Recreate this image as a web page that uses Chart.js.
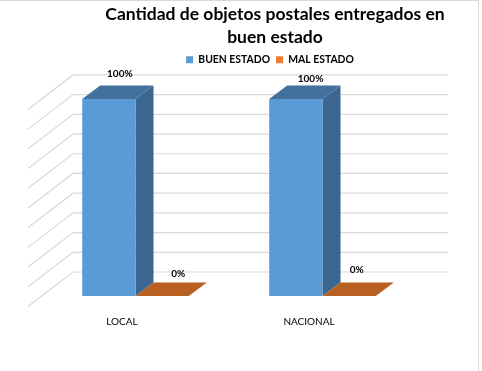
<!DOCTYPE html>
<html>
	<head>
		<title>Cantidad de objetos postales</title>
		<script src="https://cdnjs.cloudflare.com/ajax/libs/Chart.js/4.3.0/chart.umd.js"></script>
		<style>
			html, body { margin: 0; padding: 0; background: #fff; overflow: hidden; }
			#wrap { position: relative; width: 482px; height: 371px; overflow: hidden; }
			#frame { position: absolute; left: 0; top: 0; width: 478px; height: 371px; border-top: 1px solid #d9d9d9; border-right: 1px solid #d9d9d9; }
			canvas { position: absolute; left: 0; top: 0; }
		</style>
	</head>
	<body>
		<div id="wrap">
			<canvas id="myChart" width="482" height="371"></canvas>
			<div id="frame"></div>
		</div>
		<script>
			// datos
			const categories = ['LOCAL', 'NACIONAL']
			const buenEstado = [100, 100]
			const malEstado = [0, 0]
			const chartTitle = ['Cantidad de objetos postales entregados en', 'buen estado']

			// profundidad del efecto 3D
			const depthX = 18
			const depthY = 13.5

			// etiquetas colocadas a mano, como en el original (dx, dy desde la barra)
			const labelOffsets = [
				[[11, -25.5], [14.7, -20.5]],
				[[16, -22], [7.6, -26]]
			]

			const bars3d = {
				id: 'bars3d',
				afterInit (chart) {
					// mas espacio debajo de la leyenda
					const fit = chart.legend.fit
					chart.legend.fit = function () {
						fit.call(this)
						this.height += 24
					}
				},
				afterLayout (chart) {
					// titulo y leyenda no estan centrados sobre el area del grafico
					chart.titleBlock.left += 46
					chart.titleBlock.right += 46
					chart.legend.left += 41
					chart.legend.right += 41
				},
				beforeDatasetsDraw (chart) {
					const ctx = chart.ctx
					const y = chart.scales.y
					const left = chart.chartArea.left
					const right = chart.chartArea.right
					// lineas de la pared del fondo y del lateral
					ctx.save()
					ctx.lineWidth = 1.2
					y.ticks.forEach(t => {
						const py = y.getPixelForValue(t.value)
						ctx.strokeStyle = '#d9d9d9'
						ctx.beginPath()
						ctx.moveTo(left - 14, py + 10.5)
						ctx.lineTo(left + 31, py - 24)
						ctx.lineTo(right + 32, py - 24)
						ctx.stroke()
					})
					// caras lateral y superior
					chart.data.datasets.forEach((ds, i) => {
						chart.getDatasetMeta(i).data.forEach(bar => {
							const x0 = bar.x - bar.width / 2
							const x1 = bar.x + bar.width / 2
							ctx.fillStyle = ds.sideColor
							ctx.beginPath()
							ctx.moveTo(x1, bar.y)
							ctx.lineTo(x1 + depthX, bar.y - depthY)
							ctx.lineTo(x1 + depthX, bar.base - depthY)
							ctx.lineTo(x1, bar.base)
							ctx.closePath()
							ctx.fill()
							ctx.fillStyle = ds.topColor
							ctx.beginPath()
							ctx.moveTo(x0, bar.y)
							ctx.lineTo(x0 + depthX, bar.y - depthY)
							ctx.lineTo(x1 + depthX, bar.y - depthY)
							ctx.lineTo(x1, bar.y)
							ctx.closePath()
							ctx.fill()
						})
					})
					ctx.restore()
				},
				afterDatasetsDraw (chart) {
					const ctx = chart.ctx
					ctx.save()
					ctx.font = 'bold 10px Lato'
					ctx.fillStyle = '#000'
					ctx.textAlign = 'center'
					ctx.textBaseline = 'middle'
					chart.data.datasets.forEach((ds, i) => {
						chart.getDatasetMeta(i).data.forEach((bar, j) => {
							const off = labelOffsets[i][j]
							ctx.fillText(ds.data[j] + '%', bar.x + off[0], bar.y + off[1])
						})
					})
					ctx.restore()
				}
			}

			new Chart(document.getElementById('myChart').getContext('2d'), {
				type: 'bar',
				data: {
					labels: categories,
					datasets: [
						{ label: 'BUEN ESTADO', data: buenEstado, backgroundColor: '#5b9bd5', sideColor: '#3a6690', topColor: '#41719c' },
						{ label: 'MAL ESTADO', data: malEstado, backgroundColor: '#ed7d31', sideColor: '#b85f22', topColor: '#b85f22' }
					]
				},
				plugins: [bars3d],
				options: {
					responsive: false,
					animation: false,
					layout: { padding: { left: 42, right: 66, bottom: 23 } },
					datasets: { bar: { categoryPercentage: 0.57, barPercentage: 1 } },
					plugins: {
						title: {
							display: true,
							text: chartTitle,
							color: '#000',
							font: { family: 'Lato', size: 17.5, weight: 'bold', lineHeight: 1.3 },
							padding: { top: 3, bottom: 0 }
						},
						legend: {
							position: 'top',
							labels: {
								color: '#000',
								font: { family: 'Lato', size: 10.4, weight: 'bold' },
								boxWidth: 7,
								boxHeight: 7,
								padding: 6
							}
						},
						tooltip: { enabled: false }
					},
					scales: {
						x: {
							grid: { display: false, drawTicks: false },
							border: { display: false },
							ticks: { color: '#000', font: { family: 'Lato', size: 10 }, labelOffset: -13.5, padding: 20, maxRotation: 0 }
						},
						y: {
							min: 0,
							max: 100,
							grid: { display: false, drawTicks: false },
							border: { display: false },
							ticks: { display: false, stepSize: 10 }
						}
					}
				}
			})
		</script>
	</body>
</html>
